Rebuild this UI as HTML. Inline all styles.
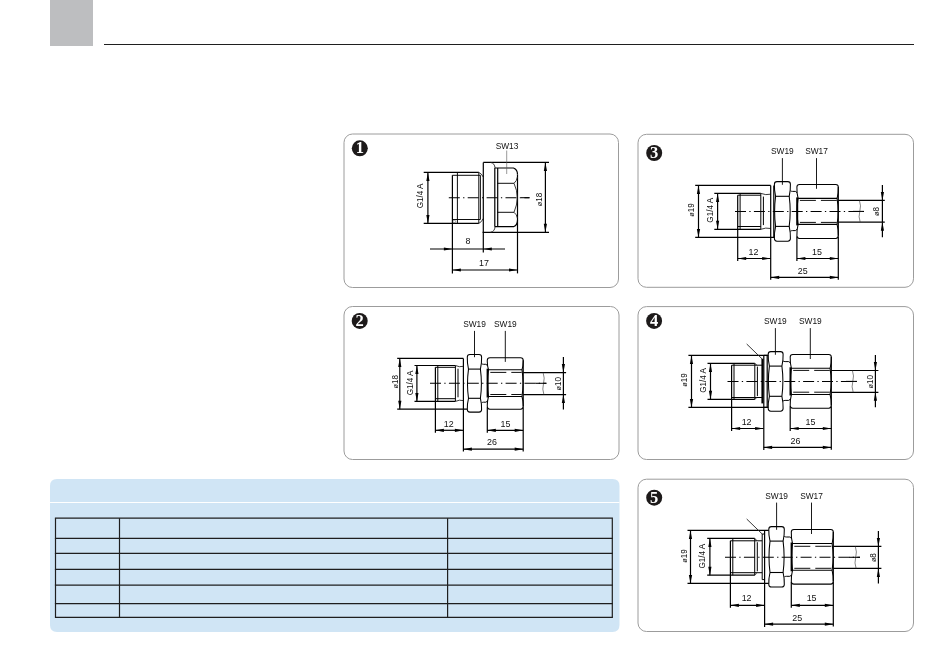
<!DOCTYPE html>
<html><head><meta charset="utf-8"><style>
html,body{margin:0;padding:0;background:#fff;}
body{width:950px;height:670px;position:relative;overflow:hidden;font-family:"Liberation Sans",sans-serif;}
svg{position:absolute;left:0;top:0;will-change:transform;}
</style></head><body>
<svg width="950" height="670" viewBox="0 0 950 670" font-family="Liberation Sans, sans-serif">
<rect x="50" y="0" width="43" height="46" fill="#bdbec0"/>
<line x1="104" y1="44.5" x2="914" y2="44.5" stroke="#1f1f1f" stroke-width="1.2"/>
<path d="M57 479 H612.5 Q619.5 479 619.5 486 V625 Q619.5 632 612.5 632 H57 Q50 632 50 625 V486 Q50 479 57 479 Z" fill="#d0e5f5"/>
<line x1="50" y1="502.5" x2="619.5" y2="502.5" stroke="#ffffff" stroke-width="1.2"/>
<line x1="54.9" y1="518.2" x2="612.9" y2="518.2" stroke="#1e1e1e" stroke-width="1.2"/>
<line x1="54.9" y1="538.3" x2="612.9" y2="538.3" stroke="#1e1e1e" stroke-width="1.2"/>
<line x1="54.9" y1="553.4" x2="612.9" y2="553.4" stroke="#1e1e1e" stroke-width="1.2"/>
<line x1="54.9" y1="569.4" x2="612.9" y2="569.4" stroke="#1e1e1e" stroke-width="1.2"/>
<line x1="54.9" y1="585.2" x2="612.9" y2="585.2" stroke="#1e1e1e" stroke-width="1.2"/>
<line x1="54.9" y1="603.6" x2="612.9" y2="603.6" stroke="#1e1e1e" stroke-width="1.2"/>
<line x1="54.9" y1="617.3" x2="612.9" y2="617.3" stroke="#1e1e1e" stroke-width="1.2"/>
<line x1="55.5" y1="518.2" x2="55.5" y2="617.3" stroke="#1e1e1e" stroke-width="1.2"/>
<line x1="119.5" y1="518.2" x2="119.5" y2="617.3" stroke="#1e1e1e" stroke-width="1.2"/>
<line x1="447.6" y1="518.2" x2="447.6" y2="617.3" stroke="#1e1e1e" stroke-width="1.2"/>
<line x1="612.3" y1="518.2" x2="612.3" y2="617.3" stroke="#1e1e1e" stroke-width="1.2"/>
<rect x="344" y="134" width="274.5" height="153.5" rx="8.5" ry="8.5" fill="none" stroke="#9c9c9c" stroke-width="1"/>
<circle cx="359.8" cy="148.3" r="8" fill="#1d1a1a"/>
<text x="359.8" y="153.2" font-family="Liberation Serif" font-weight="bold" font-size="16.5" text-anchor="middle" fill="#fff">1</text>
<rect x="344" y="306.5" width="275" height="153" rx="8.5" ry="8.5" fill="none" stroke="#9c9c9c" stroke-width="1"/>
<circle cx="359.7" cy="320.9" r="8" fill="#1d1a1a"/>
<text x="359.7" y="325.8" font-family="Liberation Serif" font-weight="bold" font-size="16.5" text-anchor="middle" fill="#fff">2</text>
<rect x="638" y="134.3" width="275.5" height="153" rx="8.5" ry="8.5" fill="none" stroke="#9c9c9c" stroke-width="1"/>
<circle cx="654.2" cy="153" r="8" fill="#1d1a1a"/>
<text x="654.2" y="157.9" font-family="Liberation Serif" font-weight="bold" font-size="16.5" text-anchor="middle" fill="#fff">3</text>
<rect x="638" y="306.6" width="275.5" height="152.9" rx="8.5" ry="8.5" fill="none" stroke="#9c9c9c" stroke-width="1"/>
<circle cx="654.1" cy="320.9" r="8" fill="#1d1a1a"/>
<text x="654.1" y="325.8" font-family="Liberation Serif" font-weight="bold" font-size="16.5" text-anchor="middle" fill="#fff">4</text>
<rect x="638" y="479.2" width="275.5" height="152.3" rx="8.5" ry="8.5" fill="none" stroke="#9c9c9c" stroke-width="1"/>
<circle cx="654.2" cy="497.7" r="8" fill="#1d1a1a"/>
<text x="654.2" y="502.6" font-family="Liberation Serif" font-weight="bold" font-size="16.5" text-anchor="middle" fill="#fff">5</text>
<line x1="423.7" y1="172.4" x2="478.8" y2="172.4" stroke="#000000" stroke-width="1.2"/>
<line x1="423.7" y1="223.4" x2="478.8" y2="223.4" stroke="#000000" stroke-width="1.2"/>
<line x1="452.4" y1="175.3" x2="480.4" y2="175.3" stroke="#000000" stroke-width="0.95"/>
<line x1="452.4" y1="219.5" x2="480.4" y2="219.5" stroke="#000000" stroke-width="0.95"/>
<line x1="452.4" y1="175.3" x2="452.4" y2="273.4" stroke="#000000" stroke-width="1.2"/>
<line x1="457.4" y1="172.4" x2="457.4" y2="223.4" stroke="#000000" stroke-width="0.95"/>
<line x1="478.8" y1="172.4" x2="478.8" y2="223.4" stroke="#000000" stroke-width="0.95"/>
<line x1="480.4" y1="175.3" x2="480.4" y2="219.5" stroke="#000000" stroke-width="0.95"/>
<path d="M478.8 172.4 Q481.5 173.5 483.3 177" stroke="#222" stroke-width="0.9" fill="none"/>
<path d="M478.8 223.4 Q481.5 222.3 483.3 218.5" stroke="#222" stroke-width="0.9" fill="none"/>
<path d="M453 221.5 a1.3 1.3 0 1 0 2.6 0 a1.3 1.3 0 1 0 -2.6 0" stroke="#444" stroke-width="0.5" fill="none"/>
<line x1="483.3" y1="162.4" x2="549" y2="162.4" stroke="#000000" stroke-width="1.2"/>
<line x1="482.6" y1="232.3" x2="549" y2="232.3" stroke="#000000" stroke-width="1.2"/>
<line x1="483.3" y1="162.4" x2="483.3" y2="252.5" stroke="#000000" stroke-width="1.2"/>
<path d="M490.5 162.4 Q494.8 163.2 495 168" stroke="#222" stroke-width="0.9" fill="none"/>
<path d="M490.5 232.3 Q494.8 231.5 495 226.7" stroke="#222" stroke-width="0.9" fill="none"/>
<line x1="494.8" y1="168" x2="494.8" y2="226.7" stroke="#000000" stroke-width="1.2"/>
<line x1="497.7" y1="168" x2="497.7" y2="226.7" stroke="#000000" stroke-width="1.2"/>
<path d="M495 168 H513.5 Q517.5 169.5 517.5 174.5" stroke="#000000" stroke-width="1.2" fill="none"/>
<path d="M495 226.7 H513.5 Q517.5 225.2 517.5 220.2" stroke="#000000" stroke-width="1.2" fill="none"/>
<line x1="517.5" y1="174.5" x2="517.5" y2="273.4" stroke="#000000" stroke-width="1.2"/>
<line x1="497.3" y1="183.3" x2="514" y2="183.3" stroke="#000000" stroke-width="0.95"/>
<line x1="497.3" y1="212.3" x2="514" y2="212.3" stroke="#000000" stroke-width="0.95"/>
<path d="M514 183.3 Q517.2 190 517.3 197.7 Q517.2 205 514 212.3" stroke="#222" stroke-width="0.9" fill="none"/>
<path d="M514 183.3 Q516.8 181 517.4 177" stroke="#222" stroke-width="0.9" fill="none"/>
<path d="M514 212.3 Q516.8 214.5 517.4 218" stroke="#222" stroke-width="0.9" fill="none"/>
<line x1="448.8" y1="197.7" x2="529.5" y2="197.7" stroke="#000000" stroke-width="1.05" stroke-dasharray="11 3.3 1.3 3.3"/>
<line x1="521" y1="197.7" x2="529.5" y2="197.7" stroke="#000000" stroke-width="1.05"/>
<line x1="427.9" y1="172.4" x2="427.9" y2="223.4" stroke="#000000" stroke-width="1.2"/>
<polygon points="427.9,172.4 426.3,180.9 429.5,180.9" fill="#000000"/>
<polygon points="427.9,223.4 426.3,214.9 429.5,214.9" fill="#000000"/>
<text transform="translate(420.2,196) rotate(-90) scale(0.9,1)" x="0" y="3.24" font-size="9" text-anchor="middle" fill="#111">G1/4 A</text>
<line x1="545.4" y1="162.4" x2="545.4" y2="232.3" stroke="#000000" stroke-width="1.2"/>
<polygon points="545.4,162.4 543.8,170.9 547,170.9" fill="#000000"/>
<polygon points="545.4,232.3 543.8,223.8 547,223.8" fill="#000000"/>
<text transform="translate(538.3,199.5) rotate(-90) scale(0.9,1)" x="0" y="3.24" font-size="9" text-anchor="middle" fill="#111"><tspan font-size="8.1">ø</tspan>18</text>
<line x1="430" y1="249" x2="505" y2="249" stroke="#000000" stroke-width="1.2"/>
<polygon points="452.4,249 443.9,247.4 443.9,250.6" fill="#000000"/>
<polygon points="483.3,249 491.8,247.4 491.8,250.6" fill="#000000"/>
<text transform="translate(468,240) scale(0.9,1)" x="0" y="3.56" font-size="9.9" text-anchor="middle" fill="#111">8</text>
<line x1="452.4" y1="270" x2="517.5" y2="270" stroke="#000000" stroke-width="1.2"/>
<polygon points="452.4,270 460.9,268.4 460.9,271.6" fill="#000000"/>
<polygon points="517.5,270 509,268.4 509,271.6" fill="#000000"/>
<text transform="translate(484,262.7) scale(0.9,1)" x="0" y="3.56" font-size="9.9" text-anchor="middle" fill="#111">17</text>
<text transform="translate(507,145.9) scale(0.88,1)" x="0" y="3.42" font-size="9.5" text-anchor="middle" fill="#111">SW13</text>
<line x1="506.7" y1="150.5" x2="506.7" y2="174" stroke="#555" stroke-width="0.6"/>
<line x1="397.2" y1="358.4" x2="463.4" y2="358.4" stroke="#000000" stroke-width="1.2"/>
<line x1="397.2" y1="409.2" x2="467.3" y2="409.2" stroke="#000000" stroke-width="1.2"/>
<line x1="399.8" y1="358.4" x2="399.8" y2="409.2" stroke="#000000" stroke-width="1.2"/>
<polygon points="399.8,358.4 398.2,366.9 401.4,366.9" fill="#000000"/>
<polygon points="399.8,409.2 398.2,400.7 401.4,400.7" fill="#000000"/>
<text transform="translate(394.4,381.8) rotate(-90) scale(0.9,1)" x="0" y="3.24" font-size="9" text-anchor="middle" fill="#111"><tspan font-size="8.1">ø</tspan>18</text>
<line x1="414.5" y1="365.5" x2="455.4" y2="365.5" stroke="#000000" stroke-width="1.2"/>
<line x1="414.5" y1="401.4" x2="455.4" y2="401.4" stroke="#000000" stroke-width="1.2"/>
<line x1="416.9" y1="365.5" x2="416.9" y2="401.4" stroke="#000000" stroke-width="1.2"/>
<polygon points="416.9,365.5 415.3,374 418.5,374" fill="#000000"/>
<polygon points="416.9,401.4 415.3,392.9 418.5,392.9" fill="#000000"/>
<text transform="translate(409.8,383) rotate(-90) scale(0.9,1)" x="0" y="3.24" font-size="9" text-anchor="middle" fill="#111">G1/4 A</text>
<line x1="435.4" y1="367.3" x2="435.4" y2="432.7" stroke="#000000" stroke-width="1.2"/>
<line x1="437.8" y1="365.5" x2="437.8" y2="401.4" stroke="#000000" stroke-width="1.0"/>
<line x1="435.4" y1="367.3" x2="455.4" y2="367.3" stroke="#000000" stroke-width="1.0"/>
<line x1="435.4" y1="398.7" x2="455.4" y2="398.7" stroke="#000000" stroke-width="1.0"/>
<line x1="455.4" y1="365.5" x2="455.4" y2="401.4" stroke="#000000" stroke-width="1.0"/>
<line x1="458" y1="368.7" x2="458" y2="397.3" stroke="#000000" stroke-width="1.0"/>
<path d="M455.4 365.5 Q459.4 367.5 463.4 366.3" stroke="#222" stroke-width="0.9" fill="none"/>
<path d="M455.4 401.4 Q459.4 399.4 463.4 400.6" stroke="#222" stroke-width="0.9" fill="none"/>
<line x1="467.3" y1="358.4" x2="467.3" y2="358.4" stroke="#000000" stroke-width="1.2"/>
<line x1="463.4" y1="358.4" x2="463.4" y2="451.5" stroke="#000000" stroke-width="1.2"/>
<path d="M469.9 354.4 H479 Q481.6 354.4 481.6 357 Q481.8 363.05 480.4 369.1 Q482.4 383.7 480.4 398.3 Q481.8 403.9 481.6 409.5 Q481.6 412.1 479 412.1 H469.9 Q467.3 412.1 467.3 409.5 Q467.1 403.9 468.5 398.3 Q466.5 383.7 468.5 369.1 Q467.1 363.05 467.3 357 Q467.3 354.4 469.9 354.4 Z" stroke="#000000" stroke-width="1.05" fill="none"/>
<line x1="468.5" y1="369.1" x2="480.4" y2="369.1" stroke="#000000" stroke-width="1.1"/>
<line x1="468.5" y1="398.3" x2="480.4" y2="398.3" stroke="#000000" stroke-width="1.1"/>
<path d="M481.6 363.7 Q482.6 364.3 483.6 364.3 H485.8 Q486.8 364.3 487.3 365.8" stroke="#000000" stroke-width="1.0" fill="none"/>
<path d="M481.6 402.8 Q482.6 402.2 483.6 402.2 H485.8 Q486.8 402.2 487.3 400.7" stroke="#000000" stroke-width="1.0" fill="none"/>
<path d="M489.9 357.7 H520.6 Q523.2 357.7 523.2 360.3 Q523.4 365 522 369.7 Q524 383.1 522 396.5 Q523.4 401.55 523.2 406.6 Q523.2 409.2 520.6 409.2 H489.9 Q487.3 409.2 487.3 406.6 Q487.1 401.55 488.5 396.5 Q486.5 383.1 488.5 369.7 Q487.1 365 487.3 360.3 Q487.3 357.7 489.9 357.7 Z" stroke="#000000" stroke-width="1.05" fill="none"/>
<line x1="487.6" y1="368.7" x2="487.6" y2="397.5" stroke="#000000" stroke-width="2.0"/>
<line x1="523.2" y1="360.3" x2="523.2" y2="406.6" stroke="#000000" stroke-width="1.2"/>
<line x1="488.5" y1="369.7" x2="522" y2="369.7" stroke="#000000" stroke-width="1.1"/>
<line x1="488.5" y1="396.5" x2="522" y2="396.5" stroke="#000000" stroke-width="1.1"/>
<line x1="487.3" y1="407.2" x2="487.3" y2="432.7" stroke="#000000" stroke-width="1.2"/>
<line x1="523.2" y1="407.2" x2="523.2" y2="451.6" stroke="#000000" stroke-width="1.2"/>
<line x1="490.3" y1="372.4" x2="521.7" y2="372.4" stroke="#000000" stroke-width="0.95" stroke-dasharray="16 5"/>
<line x1="490.3" y1="394.5" x2="521.7" y2="394.5" stroke="#000000" stroke-width="0.95" stroke-dasharray="16 5"/>
<line x1="523.2" y1="372.6" x2="566.1" y2="372.6" stroke="#000000" stroke-width="1.2"/>
<line x1="523.2" y1="394.6" x2="566.1" y2="394.6" stroke="#000000" stroke-width="1.2"/>
<path d="M543.1 372.6 Q545.1 378.1 543.5 383.6 Q541.9 389.1 543.9 394.6" stroke="#333" stroke-width="0.6" fill="none"/>
<line x1="563.4" y1="357.1" x2="563.4" y2="372.6" stroke="#000000" stroke-width="1.2"/>
<polygon points="563.4,372.6 561.8,364.1 565,364.1" fill="#000000"/>
<line x1="563.4" y1="394.6" x2="563.4" y2="409.6" stroke="#000000" stroke-width="1.2"/>
<polygon points="563.4,394.6 561.8,403.1 565,403.1" fill="#000000"/>
<line x1="563.4" y1="372.6" x2="563.4" y2="394.6" stroke="#000000" stroke-width="1.2"/>
<text transform="translate(558,383.8) rotate(-90) scale(0.9,1)" x="0" y="3.24" font-size="9" text-anchor="middle" fill="#111"><tspan font-size="8.1">ø</tspan>10</text>
<line x1="430" y1="383.3" x2="546.4" y2="383.3" stroke="#000000" stroke-width="1.05" stroke-dasharray="11 3.3 1.3 3.3"/>
<line x1="535.4" y1="383.3" x2="546.4" y2="383.3" stroke="#000000" stroke-width="1.05"/>
<text transform="translate(474.5,323.7) scale(0.88,1)" x="0" y="3.42" font-size="9.5" text-anchor="middle" fill="#111">SW19</text>
<line x1="474.5" y1="330.9" x2="474.5" y2="357.2" stroke="#000000" stroke-width="0.9"/>
<text transform="translate(505.3,323.7) scale(0.88,1)" x="0" y="3.42" font-size="9.5" text-anchor="middle" fill="#111">SW19</text>
<line x1="505.3" y1="330.9" x2="505.3" y2="361.9" stroke="#000000" stroke-width="0.9"/>
<line x1="435.4" y1="430.3" x2="463.4" y2="430.3" stroke="#000000" stroke-width="1.2"/>
<polygon points="435.4,430.3 443.9,428.7 443.9,431.9" fill="#000000"/>
<polygon points="463.4,430.3 454.9,428.7 454.9,431.9" fill="#000000"/>
<line x1="487.3" y1="430.3" x2="523.2" y2="430.3" stroke="#000000" stroke-width="1.2"/>
<polygon points="487.3,430.3 495.8,428.7 495.8,431.9" fill="#000000"/>
<polygon points="523.2,430.3 514.7,428.7 514.7,431.9" fill="#000000"/>
<line x1="463.4" y1="449.2" x2="523.2" y2="449.2" stroke="#000000" stroke-width="1.2"/>
<polygon points="463.4,449.2 471.9,447.6 471.9,450.8" fill="#000000"/>
<polygon points="523.2,449.2 514.7,447.6 514.7,450.8" fill="#000000"/>
<text transform="translate(448.7,423) scale(0.9,1)" x="0" y="3.56" font-size="9.9" text-anchor="middle" fill="#111">12</text>
<text transform="translate(505.5,423) scale(0.9,1)" x="0" y="3.56" font-size="9.9" text-anchor="middle" fill="#111">15</text>
<text transform="translate(492,441.6) scale(0.9,1)" x="0" y="3.56" font-size="9.9" text-anchor="middle" fill="#111">26</text>
<line x1="695.2" y1="185.4" x2="770.7" y2="185.4" stroke="#000000" stroke-width="1.2"/>
<line x1="695.2" y1="237.4" x2="774.4" y2="237.4" stroke="#000000" stroke-width="1.2"/>
<line x1="698.5" y1="185.4" x2="698.5" y2="237.4" stroke="#000000" stroke-width="1.2"/>
<polygon points="698.5,185.4 696.9,193.9 700.1,193.9" fill="#000000"/>
<polygon points="698.5,237.4 696.9,228.9 700.1,228.9" fill="#000000"/>
<text transform="translate(690.9,210) rotate(-90) scale(0.9,1)" x="0" y="3.24" font-size="9" text-anchor="middle" fill="#111"><tspan font-size="8.1">ø</tspan>19</text>
<line x1="714.3" y1="193.4" x2="760.8" y2="193.4" stroke="#000000" stroke-width="1.2"/>
<line x1="714.3" y1="229.3" x2="760.8" y2="229.3" stroke="#000000" stroke-width="1.2"/>
<line x1="717.6" y1="193.4" x2="717.6" y2="229.3" stroke="#000000" stroke-width="1.2"/>
<polygon points="717.6,193.4 716,201.9 719.2,201.9" fill="#000000"/>
<polygon points="717.6,229.3 716,220.8 719.2,220.8" fill="#000000"/>
<text transform="translate(709.4,210.3) rotate(-90) scale(0.9,1)" x="0" y="3.24" font-size="9" text-anchor="middle" fill="#111">G1/4 A</text>
<line x1="737.7" y1="195.2" x2="737.7" y2="260.9" stroke="#000000" stroke-width="1.2"/>
<line x1="740.1" y1="193.4" x2="740.1" y2="229.3" stroke="#000000" stroke-width="1.0"/>
<line x1="737.7" y1="195.2" x2="760.8" y2="195.2" stroke="#000000" stroke-width="1.0"/>
<line x1="737.7" y1="226.5" x2="760.8" y2="226.5" stroke="#000000" stroke-width="1.0"/>
<line x1="760.8" y1="193.4" x2="760.8" y2="229.3" stroke="#000000" stroke-width="1.0"/>
<line x1="763.4" y1="196.6" x2="763.4" y2="225.1" stroke="#000000" stroke-width="1.0"/>
<path d="M760.8 193.4 Q765.75 195.4 770.7 194.2" stroke="#222" stroke-width="0.9" fill="none"/>
<path d="M760.8 229.3 Q765.75 227.3 770.7 228.5" stroke="#222" stroke-width="0.9" fill="none"/>
<line x1="774.4" y1="185.4" x2="774.4" y2="185.4" stroke="#000000" stroke-width="1.2"/>
<line x1="770.7" y1="185.4" x2="770.7" y2="279.8" stroke="#000000" stroke-width="1.2"/>
<line x1="773.8" y1="185.4" x2="773.8" y2="237.4" stroke="#000000" stroke-width="1.2"/>
<path d="M777 181.6 H787.8 Q790.4 181.6 790.4 184.2 Q790.6 190.25 789.2 196.3 Q791.2 211.35 789.2 226.4 Q790.6 232.5 790.4 238.6 Q790.4 241.2 787.8 241.2 H777 Q774.4 241.2 774.4 238.6 Q774.2 232.5 775.6 226.4 Q773.6 211.35 775.6 196.3 Q774.2 190.25 774.4 184.2 Q774.4 181.6 777 181.6 Z" stroke="#000000" stroke-width="1.05" fill="none"/>
<line x1="775.6" y1="196.3" x2="789.2" y2="196.3" stroke="#000000" stroke-width="1.1"/>
<line x1="775.6" y1="226.4" x2="789.2" y2="226.4" stroke="#000000" stroke-width="1.1"/>
<path d="M790.4 190.8 Q791.4 191.4 792.4 191.4 H795.4 Q796.4 191.4 796.9 192.9" stroke="#000000" stroke-width="1.0" fill="none"/>
<path d="M790.4 231.2 Q791.4 230.6 792.4 230.6 H795.4 Q796.4 230.6 796.9 229.1" stroke="#000000" stroke-width="1.0" fill="none"/>
<path d="M799.5 184.4 H835.7 Q838.3 184.4 838.3 187 Q838.5 192.7 837.1 198.4 Q839.1 211.4 837.1 224.4 Q838.5 230.1 838.3 235.8 Q838.3 238.4 835.7 238.4 H799.5 Q796.9 238.4 796.9 235.8 Q796.7 230.1 798.1 224.4 Q796.1 211.4 798.1 198.4 Q796.7 192.7 796.9 187 Q796.9 184.4 799.5 184.4 Z" stroke="#000000" stroke-width="1.05" fill="none"/>
<line x1="797.2" y1="197.4" x2="797.2" y2="225.4" stroke="#000000" stroke-width="2.0"/>
<line x1="838.3" y1="187" x2="838.3" y2="235.8" stroke="#000000" stroke-width="1.2"/>
<line x1="798.1" y1="198.4" x2="837.1" y2="198.4" stroke="#000000" stroke-width="1.1"/>
<line x1="798.1" y1="224.4" x2="837.1" y2="224.4" stroke="#000000" stroke-width="1.1"/>
<line x1="796.9" y1="236.4" x2="796.9" y2="260.9" stroke="#000000" stroke-width="1.2"/>
<line x1="838.3" y1="236.4" x2="838.3" y2="279.8" stroke="#000000" stroke-width="1.2"/>
<line x1="799.9" y1="200.4" x2="836.8" y2="200.4" stroke="#000000" stroke-width="0.95" stroke-dasharray="16 5"/>
<line x1="799.9" y1="222.4" x2="836.8" y2="222.4" stroke="#000000" stroke-width="0.95" stroke-dasharray="16 5"/>
<line x1="838.3" y1="200.4" x2="884.8" y2="200.4" stroke="#000000" stroke-width="1.2"/>
<line x1="838.3" y1="222.2" x2="884.8" y2="222.2" stroke="#000000" stroke-width="1.2"/>
<path d="M859.4 200.4 Q861.4 205.85 859.8 211.3 Q858.2 216.75 860.2 222.2" stroke="#333" stroke-width="0.6" fill="none"/>
<line x1="882.4" y1="184.9" x2="882.4" y2="200.4" stroke="#000000" stroke-width="1.2"/>
<polygon points="882.4,200.4 880.8,191.9 884,191.9" fill="#000000"/>
<line x1="882.4" y1="222.2" x2="882.4" y2="237.2" stroke="#000000" stroke-width="1.2"/>
<polygon points="882.4,222.2 880.8,230.7 884,230.7" fill="#000000"/>
<line x1="882.4" y1="200.4" x2="882.4" y2="222.2" stroke="#000000" stroke-width="1.2"/>
<text transform="translate(875.8,211.5) rotate(-90) scale(0.9,1)" x="0" y="3.24" font-size="9" text-anchor="middle" fill="#111"><tspan font-size="8.1">ø</tspan>8</text>
<line x1="735" y1="211.4" x2="864" y2="211.4" stroke="#000000" stroke-width="1.05" stroke-dasharray="11 3.3 1.3 3.3"/>
<line x1="853" y1="211.4" x2="864" y2="211.4" stroke="#000000" stroke-width="1.05"/>
<text transform="translate(782.4,150.9) scale(0.88,1)" x="0" y="3.42" font-size="9.5" text-anchor="middle" fill="#111">SW19</text>
<line x1="782.4" y1="158.1" x2="782.4" y2="184.8" stroke="#000000" stroke-width="0.9"/>
<text transform="translate(816.5,150.9) scale(0.88,1)" x="0" y="3.42" font-size="9.5" text-anchor="middle" fill="#111">SW17</text>
<line x1="816.5" y1="158.1" x2="816.5" y2="188.8" stroke="#000000" stroke-width="0.9"/>
<line x1="737.7" y1="258.5" x2="770.7" y2="258.5" stroke="#000000" stroke-width="1.2"/>
<polygon points="737.7,258.5 746.2,256.9 746.2,260.1" fill="#000000"/>
<polygon points="770.7,258.5 762.2,256.9 762.2,260.1" fill="#000000"/>
<line x1="796.9" y1="258.5" x2="838.3" y2="258.5" stroke="#000000" stroke-width="1.2"/>
<polygon points="796.9,258.5 805.4,256.9 805.4,260.1" fill="#000000"/>
<polygon points="838.3,258.5 829.8,256.9 829.8,260.1" fill="#000000"/>
<line x1="770.7" y1="277.4" x2="838.3" y2="277.4" stroke="#000000" stroke-width="1.2"/>
<polygon points="770.7,277.4 779.2,275.8 779.2,279" fill="#000000"/>
<polygon points="838.3,277.4 829.8,275.8 829.8,279" fill="#000000"/>
<text transform="translate(753.4,251.7) scale(0.9,1)" x="0" y="3.56" font-size="9.9" text-anchor="middle" fill="#111">12</text>
<text transform="translate(817,251.1) scale(0.9,1)" x="0" y="3.56" font-size="9.9" text-anchor="middle" fill="#111">15</text>
<text transform="translate(802.7,270) scale(0.9,1)" x="0" y="3.56" font-size="9.9" text-anchor="middle" fill="#111">25</text>
<line x1="688.4" y1="355.4" x2="768.2" y2="355.4" stroke="#000000" stroke-width="1.2"/>
<line x1="688.4" y1="407.4" x2="768.2" y2="407.4" stroke="#000000" stroke-width="1.2"/>
<line x1="691.5" y1="355.4" x2="691.5" y2="407.4" stroke="#000000" stroke-width="1.2"/>
<polygon points="691.5,355.4 689.9,363.9 693.1,363.9" fill="#000000"/>
<polygon points="691.5,407.4 689.9,398.9 693.1,398.9" fill="#000000"/>
<text transform="translate(684.2,380) rotate(-90) scale(0.9,1)" x="0" y="3.24" font-size="9" text-anchor="middle" fill="#111"><tspan font-size="8.1">ø</tspan>19</text>
<line x1="707.5" y1="363.4" x2="754.8" y2="363.4" stroke="#000000" stroke-width="1.2"/>
<line x1="707.5" y1="399.3" x2="754.8" y2="399.3" stroke="#000000" stroke-width="1.2"/>
<line x1="710.5" y1="363.4" x2="710.5" y2="399.3" stroke="#000000" stroke-width="1.2"/>
<polygon points="710.5,363.4 708.9,371.9 712.1,371.9" fill="#000000"/>
<polygon points="710.5,399.3 708.9,390.8 712.1,390.8" fill="#000000"/>
<text transform="translate(702.6,380.5) rotate(-90) scale(0.9,1)" x="0" y="3.24" font-size="9" text-anchor="middle" fill="#111">G1/4 A</text>
<line x1="731.6" y1="365.2" x2="731.6" y2="430.9" stroke="#000000" stroke-width="1.2"/>
<line x1="734" y1="363.4" x2="734" y2="399.3" stroke="#000000" stroke-width="1.0"/>
<line x1="731.6" y1="365.2" x2="754.8" y2="365.2" stroke="#000000" stroke-width="1.0"/>
<line x1="731.6" y1="397.5" x2="754.8" y2="397.5" stroke="#000000" stroke-width="1.0"/>
<line x1="754.8" y1="363.4" x2="754.8" y2="399.3" stroke="#000000" stroke-width="1.0"/>
<line x1="757.4" y1="366.6" x2="757.4" y2="396.1" stroke="#000000" stroke-width="1.0"/>
<line x1="754.8" y1="365.2" x2="762" y2="365.2" stroke="#000000" stroke-width="1.0"/>
<line x1="754.8" y1="397.5" x2="762" y2="397.5" stroke="#000000" stroke-width="1.0"/>
<path d="M754.3 363.4 Q756 363.6 756.6 365.2" stroke="#222" stroke-width="0.9" fill="none"/>
<path d="M754.3 399.3 Q756 399.1 756.6 397.5" stroke="#222" stroke-width="0.9" fill="none"/>
<line x1="768.2" y1="355.4" x2="768.2" y2="355.4" stroke="#000000" stroke-width="1.2"/>
<line x1="763.8" y1="355.4" x2="763.8" y2="450" stroke="#000000" stroke-width="1.2"/>
<line x1="767.2" y1="355.4" x2="767.2" y2="407.4" stroke="#000000" stroke-width="1.2"/>
<line x1="763.8" y1="355.4" x2="768.2" y2="355.4" stroke="#000000" stroke-width="1.2"/>
<line x1="763.8" y1="407.4" x2="768.2" y2="407.4" stroke="#000000" stroke-width="1.2"/>
<line x1="762.4" y1="358.7" x2="762.4" y2="403.4" stroke="#000000" stroke-width="2.0"/>
<line x1="746.7" y1="344" x2="762.2" y2="359" stroke="#222" stroke-width="0.9"/>
<path d="M770.8 351.6 H780.5 Q783.1 351.6 783.1 354.2 Q783.3 360.15 781.9 366.1 Q783.9 381.2 781.9 396.3 Q783.3 402.45 783.1 408.6 Q783.1 411.2 780.5 411.2 H770.8 Q768.2 411.2 768.2 408.6 Q768 402.45 769.4 396.3 Q767.4 381.2 769.4 366.1 Q768 360.15 768.2 354.2 Q768.2 351.6 770.8 351.6 Z" stroke="#000000" stroke-width="1.05" fill="none"/>
<line x1="769.4" y1="366.1" x2="781.9" y2="366.1" stroke="#000000" stroke-width="1.1"/>
<line x1="769.4" y1="396.3" x2="781.9" y2="396.3" stroke="#000000" stroke-width="1.1"/>
<path d="M783.1 361 Q784.1 361.6 785.1 361.6 H788.7 Q789.7 361.6 790.2 363.1" stroke="#000000" stroke-width="1.0" fill="none"/>
<path d="M783.1 401 Q784.1 400.4 785.1 400.4 H788.7 Q789.7 400.4 790.2 398.9" stroke="#000000" stroke-width="1.0" fill="none"/>
<path d="M792.8 354.4 H828.7 Q831.3 354.4 831.3 357 Q831.5 362.65 830.1 368.3 Q832.1 381.4 830.1 394.5 Q831.5 400.05 831.3 405.6 Q831.3 408.2 828.7 408.2 H792.8 Q790.2 408.2 790.2 405.6 Q790 400.05 791.4 394.5 Q789.4 381.4 791.4 368.3 Q790 362.65 790.2 357 Q790.2 354.4 792.8 354.4 Z" stroke="#000000" stroke-width="1.05" fill="none"/>
<line x1="790.5" y1="367.3" x2="790.5" y2="395.5" stroke="#000000" stroke-width="2.0"/>
<line x1="831.3" y1="357" x2="831.3" y2="405.6" stroke="#000000" stroke-width="1.2"/>
<line x1="791.4" y1="368.3" x2="830.1" y2="368.3" stroke="#000000" stroke-width="1.1"/>
<line x1="791.4" y1="394.5" x2="830.1" y2="394.5" stroke="#000000" stroke-width="1.1"/>
<line x1="790.2" y1="406.2" x2="790.2" y2="430.9" stroke="#000000" stroke-width="1.2"/>
<line x1="831.3" y1="406.2" x2="831.3" y2="449.8" stroke="#000000" stroke-width="1.2"/>
<line x1="793.2" y1="370.4" x2="829.8" y2="370.4" stroke="#000000" stroke-width="0.95" stroke-dasharray="16 5"/>
<line x1="793.2" y1="392.2" x2="829.8" y2="392.2" stroke="#000000" stroke-width="0.95" stroke-dasharray="16 5"/>
<line x1="831.3" y1="370.5" x2="878.4" y2="370.5" stroke="#000000" stroke-width="1.2"/>
<line x1="831.3" y1="392.3" x2="878.4" y2="392.3" stroke="#000000" stroke-width="1.2"/>
<path d="M852.4 370.5 Q854.4 375.95 852.8 381.4 Q851.2 386.85 853.2 392.3" stroke="#333" stroke-width="0.6" fill="none"/>
<line x1="875.4" y1="355" x2="875.4" y2="370.5" stroke="#000000" stroke-width="1.2"/>
<polygon points="875.4,370.5 873.8,362 877,362" fill="#000000"/>
<line x1="875.4" y1="392.3" x2="875.4" y2="407.3" stroke="#000000" stroke-width="1.2"/>
<polygon points="875.4,392.3 873.8,400.8 877,400.8" fill="#000000"/>
<line x1="875.4" y1="370.5" x2="875.4" y2="392.3" stroke="#000000" stroke-width="1.2"/>
<text transform="translate(869.4,381.8) rotate(-90) scale(0.9,1)" x="0" y="3.24" font-size="9" text-anchor="middle" fill="#111"><tspan font-size="8.1">ø</tspan>10</text>
<line x1="727.5" y1="381.4" x2="857" y2="381.4" stroke="#000000" stroke-width="1.05" stroke-dasharray="11 3.3 1.3 3.3"/>
<line x1="846" y1="381.4" x2="857" y2="381.4" stroke="#000000" stroke-width="1.05"/>
<text transform="translate(775.4,320.9) scale(0.88,1)" x="0" y="3.42" font-size="9.5" text-anchor="middle" fill="#111">SW19</text>
<line x1="775.4" y1="328.1" x2="775.4" y2="354.8" stroke="#000000" stroke-width="0.9"/>
<text transform="translate(810.3,320.9) scale(0.88,1)" x="0" y="3.42" font-size="9.5" text-anchor="middle" fill="#111">SW19</text>
<line x1="810.3" y1="328.1" x2="810.3" y2="359" stroke="#000000" stroke-width="0.9"/>
<line x1="731.6" y1="428.5" x2="763.6" y2="428.5" stroke="#000000" stroke-width="1.2"/>
<polygon points="731.6,428.5 740.1,426.9 740.1,430.1" fill="#000000"/>
<polygon points="763.6,428.5 755.1,426.9 755.1,430.1" fill="#000000"/>
<line x1="790.2" y1="428.5" x2="831.3" y2="428.5" stroke="#000000" stroke-width="1.2"/>
<polygon points="790.2,428.5 798.7,426.9 798.7,430.1" fill="#000000"/>
<polygon points="831.3,428.5 822.8,426.9 822.8,430.1" fill="#000000"/>
<line x1="763.6" y1="447.4" x2="831.3" y2="447.4" stroke="#000000" stroke-width="1.2"/>
<polygon points="763.6,447.4 772.1,445.8 772.1,449" fill="#000000"/>
<polygon points="831.3,447.4 822.8,445.8 822.8,449" fill="#000000"/>
<text transform="translate(746.6,421.7) scale(0.9,1)" x="0" y="3.56" font-size="9.9" text-anchor="middle" fill="#111">12</text>
<text transform="translate(810.4,421.5) scale(0.9,1)" x="0" y="3.56" font-size="9.9" text-anchor="middle" fill="#111">15</text>
<text transform="translate(795.5,440) scale(0.9,1)" x="0" y="3.56" font-size="9.9" text-anchor="middle" fill="#111">26</text>
<line x1="687.5" y1="530.4" x2="768.8" y2="530.4" stroke="#000000" stroke-width="1.2"/>
<line x1="687.5" y1="583.4" x2="768.8" y2="583.4" stroke="#000000" stroke-width="1.2"/>
<line x1="690.5" y1="530.4" x2="690.5" y2="583.4" stroke="#000000" stroke-width="1.2"/>
<polygon points="690.5,530.4 688.9,538.9 692.1,538.9" fill="#000000"/>
<polygon points="690.5,583.4 688.9,574.9 692.1,574.9" fill="#000000"/>
<text transform="translate(683.6,556) rotate(-90) scale(0.9,1)" x="0" y="3.24" font-size="9" text-anchor="middle" fill="#111"><tspan font-size="8.1">ø</tspan>19</text>
<line x1="707.2" y1="538.4" x2="754.7" y2="538.4" stroke="#000000" stroke-width="1.2"/>
<line x1="707.2" y1="575.2" x2="754.7" y2="575.2" stroke="#000000" stroke-width="1.2"/>
<line x1="709.9" y1="538.4" x2="709.9" y2="575.2" stroke="#000000" stroke-width="1.2"/>
<polygon points="709.9,538.4 708.3,546.9 711.5,546.9" fill="#000000"/>
<polygon points="709.9,575.2 708.3,566.7 711.5,566.7" fill="#000000"/>
<text transform="translate(702,556.2) rotate(-90) scale(0.9,1)" x="0" y="3.24" font-size="9" text-anchor="middle" fill="#111">G1/4 A</text>
<line x1="730.4" y1="540.8" x2="730.4" y2="607.7" stroke="#000000" stroke-width="1.2"/>
<line x1="732.8" y1="538.4" x2="732.8" y2="575.2" stroke="#000000" stroke-width="1.0"/>
<line x1="730.4" y1="540.8" x2="754.7" y2="540.8" stroke="#000000" stroke-width="1.0"/>
<line x1="730.4" y1="572.7" x2="754.7" y2="572.7" stroke="#000000" stroke-width="1.0"/>
<line x1="754.7" y1="538.4" x2="754.7" y2="575.2" stroke="#000000" stroke-width="1.0"/>
<line x1="757.3" y1="542.2" x2="757.3" y2="571.3" stroke="#000000" stroke-width="1.0"/>
<line x1="754.7" y1="540.8" x2="762.2" y2="540.8" stroke="#000000" stroke-width="1.0"/>
<line x1="754.7" y1="572.7" x2="762.2" y2="572.7" stroke="#000000" stroke-width="1.0"/>
<path d="M754.2 538.4 Q755.9 538.6 756.5 540.8" stroke="#222" stroke-width="0.9" fill="none"/>
<path d="M754.2 575.2 Q755.9 575 756.5 572.7" stroke="#222" stroke-width="0.9" fill="none"/>
<line x1="768.8" y1="530.4" x2="768.8" y2="530.4" stroke="#000000" stroke-width="1.2"/>
<line x1="764.6" y1="530.4" x2="764.6" y2="627" stroke="#000000" stroke-width="1.2"/>
<line x1="762.2" y1="534" x2="762.2" y2="579.6" stroke="#000000" stroke-width="1.0"/>
<line x1="762.2" y1="534" x2="764.6" y2="534" stroke="#000000" stroke-width="1.0"/>
<line x1="762.2" y1="579.6" x2="764.6" y2="579.6" stroke="#000000" stroke-width="1.0"/>
<line x1="746.7" y1="519" x2="762.2" y2="534" stroke="#222" stroke-width="0.9"/>
<path d="M771.4 526.6 H781.7 Q784.3 526.6 784.3 529.2 Q784.5 535.15 783.1 541.1 Q785.1 556.8 783.1 572.5 Q784.5 578.45 784.3 584.4 Q784.3 587 781.7 587 H771.4 Q768.8 587 768.8 584.4 Q768.6 578.45 770 572.5 Q768 556.8 770 541.1 Q768.6 535.15 768.8 529.2 Q768.8 526.6 771.4 526.6 Z" stroke="#000000" stroke-width="1.05" fill="none"/>
<line x1="770" y1="541.1" x2="783.1" y2="541.1" stroke="#000000" stroke-width="1.1"/>
<line x1="770" y1="572.5" x2="783.1" y2="572.5" stroke="#000000" stroke-width="1.1"/>
<path d="M784.3 536.4 Q785.3 537 786.3 537 H789.8 Q790.8 537 791.3 538.5" stroke="#000000" stroke-width="1.0" fill="none"/>
<path d="M784.3 576.9 Q785.3 576.3 786.3 576.3 H789.8 Q790.8 576.3 791.3 574.8" stroke="#000000" stroke-width="1.0" fill="none"/>
<path d="M793.9 529.4 H830.7 Q833.3 529.4 833.3 532 Q833.5 537.75 832.1 543.5 Q834.1 556.9 832.1 570.3 Q833.5 575.9 833.3 581.5 Q833.3 584.1 830.7 584.1 H793.9 Q791.3 584.1 791.3 581.5 Q791.1 575.9 792.5 570.3 Q790.5 556.9 792.5 543.5 Q791.1 537.75 791.3 532 Q791.3 529.4 793.9 529.4 Z" stroke="#000000" stroke-width="1.05" fill="none"/>
<line x1="791.6" y1="542.5" x2="791.6" y2="571.3" stroke="#000000" stroke-width="2.0"/>
<line x1="833.3" y1="532" x2="833.3" y2="581.5" stroke="#000000" stroke-width="1.2"/>
<line x1="792.5" y1="543.5" x2="832.1" y2="543.5" stroke="#000000" stroke-width="1.1"/>
<line x1="792.5" y1="570.3" x2="832.1" y2="570.3" stroke="#000000" stroke-width="1.1"/>
<line x1="791.3" y1="582.1" x2="791.3" y2="607.7" stroke="#000000" stroke-width="1.2"/>
<line x1="833.3" y1="582.1" x2="833.3" y2="626.6" stroke="#000000" stroke-width="1.2"/>
<line x1="794.3" y1="546.3" x2="831.8" y2="546.3" stroke="#000000" stroke-width="0.95" stroke-dasharray="16 5"/>
<line x1="794.3" y1="568.3" x2="831.8" y2="568.3" stroke="#000000" stroke-width="0.95" stroke-dasharray="16 5"/>
<line x1="833.3" y1="546.4" x2="881.4" y2="546.4" stroke="#000000" stroke-width="1.2"/>
<line x1="833.3" y1="568.4" x2="881.4" y2="568.4" stroke="#000000" stroke-width="1.2"/>
<path d="M855.3 546.4 Q857.3 551.9 855.7 557.4 Q854.1 562.9 856.1 568.4" stroke="#333" stroke-width="0.6" fill="none"/>
<line x1="878.4" y1="530.9" x2="878.4" y2="546.4" stroke="#000000" stroke-width="1.2"/>
<polygon points="878.4,546.4 876.8,537.9 880,537.9" fill="#000000"/>
<line x1="878.4" y1="568.4" x2="878.4" y2="583.4" stroke="#000000" stroke-width="1.2"/>
<polygon points="878.4,568.4 876.8,576.9 880,576.9" fill="#000000"/>
<line x1="878.4" y1="546.4" x2="878.4" y2="568.4" stroke="#000000" stroke-width="1.2"/>
<text transform="translate(872.6,557.6) rotate(-90) scale(0.9,1)" x="0" y="3.24" font-size="9" text-anchor="middle" fill="#111"><tspan font-size="8.1">ø</tspan>8</text>
<line x1="725" y1="557.3" x2="860" y2="557.3" stroke="#000000" stroke-width="1.05" stroke-dasharray="11 3.3 1.3 3.3"/>
<line x1="849" y1="557.3" x2="860" y2="557.3" stroke="#000000" stroke-width="1.05"/>
<text transform="translate(776.6,495.4) scale(0.88,1)" x="0" y="3.42" font-size="9.5" text-anchor="middle" fill="#111">SW19</text>
<line x1="776.6" y1="502.6" x2="776.6" y2="529.8" stroke="#000000" stroke-width="0.9"/>
<text transform="translate(811.5,495.4) scale(0.88,1)" x="0" y="3.42" font-size="9.5" text-anchor="middle" fill="#111">SW17</text>
<line x1="811.5" y1="502.6" x2="811.5" y2="534" stroke="#000000" stroke-width="0.9"/>
<line x1="730.4" y1="605.3" x2="764.6" y2="605.3" stroke="#000000" stroke-width="1.2"/>
<polygon points="730.4,605.3 738.9,603.7 738.9,606.9" fill="#000000"/>
<polygon points="764.6,605.3 756.1,603.7 756.1,606.9" fill="#000000"/>
<line x1="791.3" y1="605.3" x2="833.3" y2="605.3" stroke="#000000" stroke-width="1.2"/>
<polygon points="791.3,605.3 799.8,603.7 799.8,606.9" fill="#000000"/>
<polygon points="833.3,605.3 824.8,603.7 824.8,606.9" fill="#000000"/>
<line x1="764.6" y1="624.2" x2="833.3" y2="624.2" stroke="#000000" stroke-width="1.2"/>
<polygon points="764.6,624.2 773.1,622.6 773.1,625.8" fill="#000000"/>
<polygon points="833.3,624.2 824.8,622.6 824.8,625.8" fill="#000000"/>
<text transform="translate(746.6,597.8) scale(0.9,1)" x="0" y="3.56" font-size="9.9" text-anchor="middle" fill="#111">12</text>
<text transform="translate(811.6,597.8) scale(0.9,1)" x="0" y="3.56" font-size="9.9" text-anchor="middle" fill="#111">15</text>
<text transform="translate(797.3,617) scale(0.9,1)" x="0" y="3.56" font-size="9.9" text-anchor="middle" fill="#111">25</text>
</svg>
</body></html>
